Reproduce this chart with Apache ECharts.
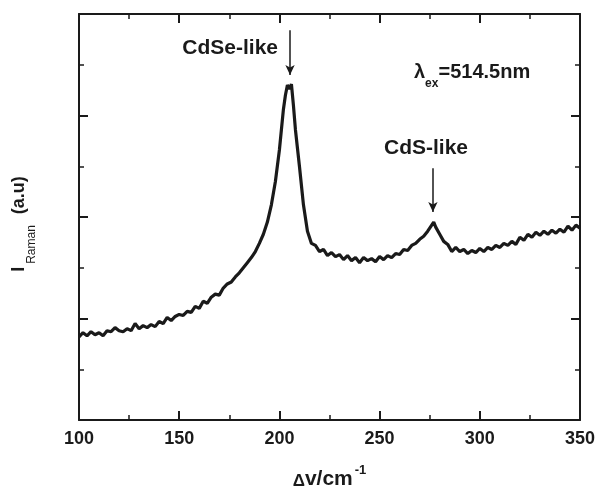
<!DOCTYPE html>
<html>
<head>
<meta charset="utf-8">
<script src="https://cdn.jsdelivr.net/npm/echarts@6/dist/echarts.min.js"></script>
<style>
    html, body { margin: 0; padding: 0; background: #fff; }
    #box1 { width: 597px; height: 489px; }
</style>
</head>
<body>
<div id="box1"></div>
<script>
// Raman shift (cm-1)
var shift = [
    100, 102, 104, 106, 108, 110, 112, 114, 116, 118,
    120, 122, 124, 126, 128, 130, 132, 134, 136, 138,
    140, 142, 144, 146, 148, 150, 152, 154, 156, 158,
    160, 162, 164, 166, 168, 170, 172, 174, 176, 178,
    180, 182, 184, 186, 188, 190, 192, 194, 196, 198,
    200, 202, 203, 204, 205, 206, 207, 208, 210, 212,
    214, 216, 218, 220, 222, 224, 226, 228, 230, 232,
    234, 236, 238, 240, 242, 244, 246, 248, 250, 252,
    254, 256, 258, 260, 262, 264, 266, 268, 270, 272,
    274, 276, 277, 278, 280, 282, 284, 286, 288, 290,
    292, 294, 296, 298, 300, 302, 304, 306, 308, 310,
    312, 314, 316, 318, 320, 322, 324, 326, 328, 330,
    332, 334, 336, 338, 340, 342, 344, 346, 348, 350
];
// Raman intensity (a.u)
var intensity = [
    0.82, 0.86, 0.83, 0.87, 0.84, 0.86, 0.83, 0.88, 0.87, 0.91,
    0.88, 0.87, 0.90, 0.88, 0.95, 0.90, 0.93, 0.91, 0.94, 0.92,
    0.97, 0.95, 1.01, 0.98, 1.02, 1.04, 1.03, 1.07, 1.06, 1.12,
    1.10, 1.17, 1.15, 1.21, 1.24, 1.23, 1.30, 1.34, 1.36, 1.41,
    1.45, 1.50, 1.55, 1.60, 1.66, 1.74, 1.83, 1.95, 2.12, 2.35,
    2.66, 3.06, 3.20, 3.30, 3.26, 3.31, 3.10, 2.86, 2.50, 2.12,
    1.86, 1.74, 1.72, 1.66, 1.68, 1.62, 1.65, 1.61, 1.63, 1.58,
    1.62, 1.57, 1.60, 1.55, 1.60, 1.57, 1.59, 1.56, 1.61, 1.58,
    1.62, 1.60, 1.64, 1.63, 1.68, 1.67, 1.72, 1.74, 1.78, 1.81,
    1.86, 1.92, 1.95, 1.90, 1.83, 1.76, 1.73, 1.66, 1.70, 1.66,
    1.68, 1.64, 1.67, 1.65, 1.69, 1.66, 1.70, 1.68, 1.72, 1.70,
    1.74, 1.72, 1.76, 1.73, 1.80, 1.77, 1.83, 1.80, 1.85, 1.82,
    1.86, 1.83, 1.87, 1.84, 1.88, 1.85, 1.91, 1.87, 1.92, 1.89
];
// arrows: [x, yFrom, yTo]
var cdseArrow = [205.3, 3.84, 3.40];
var cdsArrow = [276.6, 2.48, 2.05];

var font = "'Liberation Sans', Arial, sans-serif";
var ink = '#1a1a1a';

var points = [];
for (var i = 0; i < shift.length; i++) {
    points.push([shift[i], intensity[i]]);
}

var axisBase = {
    axisLine: { show: true, onZero: false, lineStyle: { color: ink, width: 2 } },
    axisTick: { show: true, inside: true, length: 9, lineStyle: { color: ink, width: 2 } },
    minorTick: { show: true, splitNumber: 2, length: 5, lineStyle: { color: ink, width: 1.5 } },
    splitLine: { show: false }
};

var chart = echarts.init(document.getElementById('box1'));
var option = {
    animation: false,
    backgroundColor: '#fff',
    grid: { left: 79, right: 17, top: 14, bottom: 69, outerBoundsMode: 'none' }
};

option.xAxis = [
    Object.assign({}, axisBase, {
        type: 'value', min: 100, max: 350, interval: 50, position: 'bottom',
        axisLabel: { color: ink, fontSize: 18, fontWeight: 'bold', fontFamily: font, margin: 10 },
        name: '{d|Δ}{m|v/cm}{p|-1}',
        nameLocation: 'middle',
        nameGap: 44,
        nameMoveOverlap: false,
        nameTextStyle: {
            fontFamily: font, color: ink, verticalAlign: 'top',
            rich: {
                d: { fontSize: 17, fontWeight: 'bold', fontFamily: font, color: ink, lineHeight: 26, verticalAlign: 'bottom' },
                m: { fontSize: 21, fontWeight: 'bold', fontFamily: font, color: ink, lineHeight: 26, verticalAlign: 'bottom' },
                p: { fontSize: 13, fontWeight: 'bold', fontFamily: font, color: ink, lineHeight: 26, verticalAlign: 'top', padding: [0, 0, 0, 2] }
            }
        }
    }),
    Object.assign({}, axisBase, {
        type: 'value', min: 100, max: 350, interval: 50, position: 'top',
        axisLabel: { show: false }
    })
];
option.yAxis = [
    Object.assign({}, axisBase, {
        type: 'value', min: 0, max: 4, interval: 1, position: 'left',
        axisLabel: { show: false }
    }),
    Object.assign({}, axisBase, {
        type: 'value', min: 0, max: 4, interval: 1, position: 'right',
        axisLabel: { show: false }
    })
];
option.graphic = [
    {
        type: 'text', x: 278, y: 48,
        style: { text: 'CdSe-like', font: 'bold 21px ' + font, fill: ink, textAlign: 'right', textVerticalAlign: 'middle' }
    },
    {
        type: 'text', x: 426, y: 148,
        style: { text: 'CdS-like', font: 'bold 21px ' + font, fill: ink, textAlign: 'center', textVerticalAlign: 'middle' }
    },
    {
        type: 'text', x: 414, y: 62,
        style: {
            text: '{m|λ}{s|ex}{m|=514.5nm}', textAlign: 'left', textVerticalAlign: 'top', fill: ink,
            rich: {
                m: { fontSize: 20, fontWeight: 'bold', fontFamily: font, fill: ink, lineHeight: 28, verticalAlign: 'top' },
                s: { fontSize: 12, fontWeight: 'bold', fontFamily: font, fill: ink, lineHeight: 28, verticalAlign: 'bottom' }
            }
        }
    },
    {
        type: 'text', x: 10, y: 224, rotation: Math.PI / 2,
        style: {
            text: '{m|I}{s|Raman}{m| (a.u)}', textAlign: 'center', textVerticalAlign: 'top', fill: ink,
            rich: {
                m: { fontSize: 18, fontWeight: 'bold', fontFamily: font, fill: ink, lineHeight: 28, verticalAlign: 'top' },
                s: { fontSize: 12, fontFamily: font, fill: ink, lineHeight: 28, verticalAlign: 'bottom', padding: [0, 6, 0, 3] }
            }
        }
    }
];
option.series = [
    {
        type: 'line',
        data: points,
        showSymbol: false,
        symbol: 'none',
        lineStyle: { color: ink, width: 3.2 },
        markLine: {
            silent: true,
            symbol: ['none', 'arrow'],
            symbolSize: [7, 10],
            label: { show: false },
            lineStyle: { color: ink, width: 1.5, type: 'solid' },
            data: [
                [{ coord: [cdseArrow[0], cdseArrow[1]] }, { coord: [cdseArrow[0], cdseArrow[2]] }],
                [{ coord: [cdsArrow[0], cdsArrow[1]] }, { coord: [cdsArrow[0], cdsArrow[2]] }]
            ]
        }
    }
];
chart.setOption(option);
</script>
</body>
</html>
